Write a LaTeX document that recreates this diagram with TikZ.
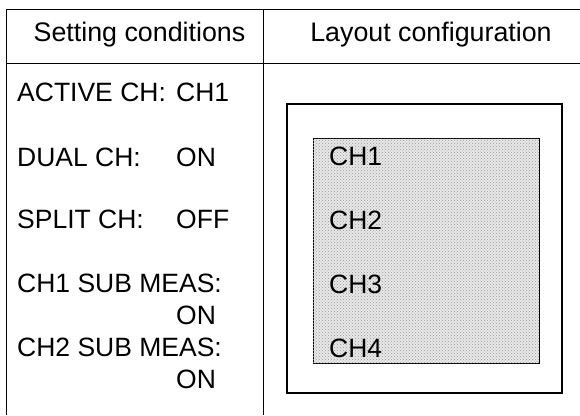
\documentclass[tikz,border=0pt]{standalone}
\usepackage{fontspec}
\setmainfont{Liberation Sans}
\usetikzlibrary{patterns}
\begin{document}
\begin{tikzpicture}[x=1pt,y=-1pt,
  txt/.style={anchor=base west,inner sep=0pt,font=\fontsize{26.5}{30}\selectfont},
  hdr/.style={anchor=base,inner sep=0pt,font=\fontsize{26.8}{30}\selectfont},
  rule/.style={line width=1pt,black},
  frame/.style={line width=1.2pt,draw=black},
  shade/.style={line width=1pt,draw=black,fill=gray!18,postaction={pattern=crosshatch dots,pattern color=gray!80}}]
\useasboundingbox (0,0) rectangle (580,415);
\fill[white] (0,0) rectangle (580,415);
% table
\coordinate (tl) at (6,9);
\coordinate (tr) at (580,9);
\coordinate (hl) at (6,63);
\coordinate (hr) at (580,63);
\coordinate (bl) at (6,415);
\coordinate (dt) at (263,9);
\coordinate (db) at (263,415);
\draw[rule] (tr) -- (tl) -- (bl);
\draw[rule] (hl) -- (hr);
\draw[rule] (dt) -- (db);
% headers
\node[hdr] (h1) at (139.5,41) {Setting conditions};
\node[hdr] (h2) at (431,41) {Layout configuration};
% settings
\node[txt] (s1) at (17,101) {ACTIVE CH:};
\node[txt] (v1) at (176,101) {CH1};
\node[txt] (s2) at (17,166) {DUAL CH:};
\node[txt] (v2) at (176,166) {ON};
\node[txt] (s3) at (17,228) {SPLIT CH:};
\node[txt] (v3) at (176,228) {OFF};
\node[txt] (s4) at (17,292) {CH1 SUB MEAS:};
\node[txt] (v4) at (176,324) {ON};
\node[txt] (s5) at (17,356) {CH2 SUB MEAS:};
\node[txt] (v5) at (176,388) {ON};
% layout
\draw[frame] (287,104) rectangle (562,393);
\path[shade] (313,138) rectangle (539,363);
\node[txt] (c1) at (329,165) {CH1};
\node[txt] (c2) at (329,229) {CH2};
\node[txt] (c3) at (329,293) {CH3};
\node[txt] (c4) at (329,357) {CH4};
\end{tikzpicture}
\end{document}
